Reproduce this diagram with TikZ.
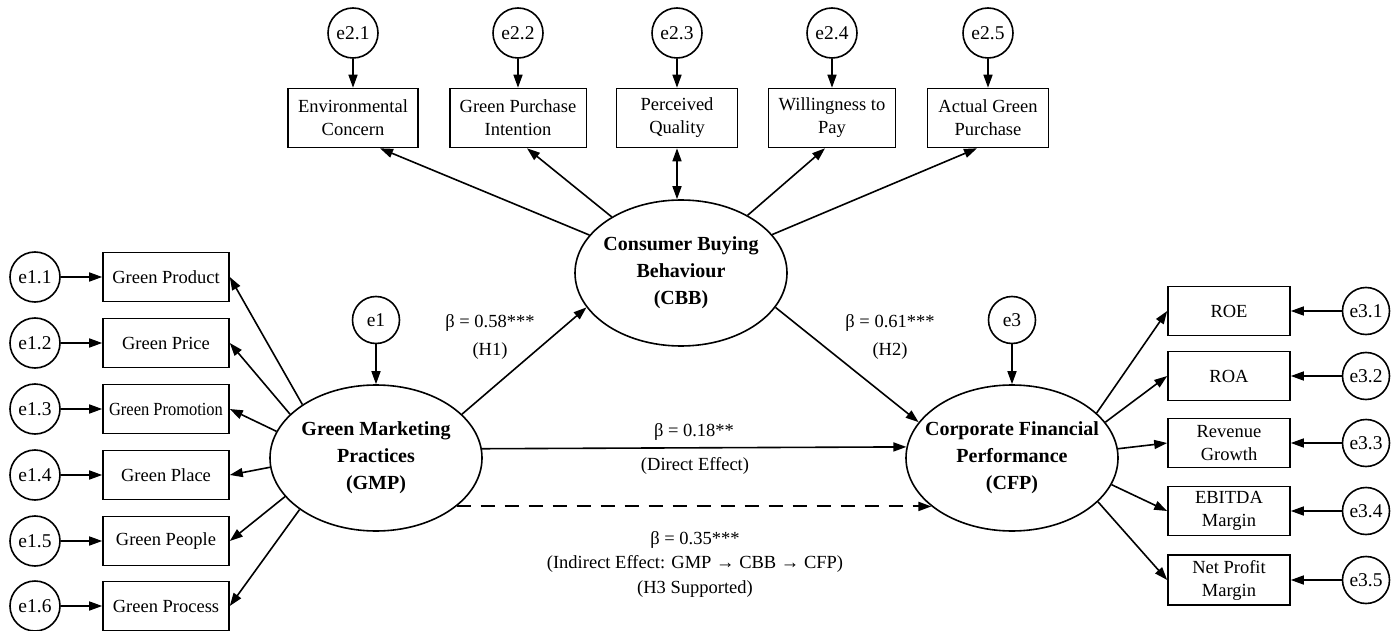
\documentclass[tikz,border=0pt]{standalone}
\usepackage{fontspec}
\setmainfont{Liberation Serif}
\usepackage{graphicx}
\usetikzlibrary{shapes.geometric,arrows.meta}

\begin{document}
\begin{tikzpicture}[x=1pt,y=-1pt,line width=1.6pt,>={Triangle[length=13pt,width=9pt]}]
	\tikzstyle{every node}+=[inner sep=0pt,font=\fontsize{18.5}{23}\selectfont]
	\tikzstyle{err}=[draw,circle,minimum size=50pt,font=\fontsize{19.5}{23}\selectfont]
	\tikzstyle{errs}=[err,minimum size=47pt]
	\tikzstyle{ind}=[draw,rectangle,align=center,inner xsep=4pt]
	\tikzstyle{indl}=[ind,minimum width=126pt,minimum height=49pt]
	\tikzstyle{indt}=[ind,inner xsep=10pt,minimum width=121pt,minimum height=59pt]
	\tikzstyle{indr}=[ind,minimum width=122pt,minimum height=49pt,inner ysep=5pt]
	\tikzstyle{latent}=[draw,ellipse,minimum width=212pt,minimum height=146pt]
	\tikzstyle{latlbl}=[align=center,font=\bfseries\fontsize{20}{27}\selectfont]
	\tikzstyle{coef}=[align=center]
	\useasboundingbox (0,0) rectangle (1400,631);

	\node[latent,label={[latlbl]center:Green Marketing\\Practices\\(GMP)}] (GMP) at (376,458) {};
	\node[latent,label={[latlbl]center:Consumer Buying\\Behaviour\\(CBB)}] (CBB) at (681,273) {};
	\node[latent,label={[latlbl]center:Corporate Financial\\Performance\\(CFP)}] (CFP) at (1012,458) {};
	\node[errs] (e1) at (376,320) {e1};
	\node[errs] (e3) at (1012,320) {e3};

	\node[err] (e11) at (35,277) {e1.1};
	\node[err] (e12) at (35,343) {e1.2};
	\node[err] (e13) at (35,409) {e1.3};
	\node[err] (e14) at (35,475) {e1.4};
	\node[err] (e15) at (35,541) {e1.5};
	\node[err] (e16) at (35,606) {e1.6};
	\node[indl] (gprod) at (166,277) {Green Product};
	\node[indl] (gprice) at (166,343) {Green Price};
	\node[indl] (gpromo) at (166,409) {\scalebox{0.89}[1]{Green Promotion}};
	\node[indl] (gplace) at (166,475) {Green Place};
	\node[indl] (gpeople) at (166,541) {Green People};
	\node[indl] (gprocess) at (166,606) {Green Process};

	\node[err] (e21) at (353,33) {e2.1};
	\node[err] (e22) at (518,33) {e2.2};
	\node[err] (e23) at (677,33) {e2.3};
	\node[err] (e24) at (832,33) {e2.4};
	\node[err] (e25) at (988,33) {e2.5};
	\node[indt] (env) at (353,118) {Environmental\\Concern};
	\node[indt] (gpi) at (518,118) {Green Purchase\\Intention};
	\node[indt] (pq) at (677,118) {Perceived\\Quality};
	\node[indt] (wtp) at (832,118) {Willingness to\\Pay};
	\node[indt] (agp) at (988,118) {Actual Green\\Purchase};

	\node[indr] (roe) at (1229,311) {ROE};
	\node[indr] (roa) at (1229,376) {ROA};
	\node[indr] (rev) at (1229,443) {Revenue\\Growth};
	\node[indr] (ebitda) at (1229,511) {EBITDA\\Margin};
	\node[indr] (npm) at (1229,580) {Net Profit\\Margin};
	\node[errs] (e31) at (1366,311) {e3.1};
	\node[errs] (e32) at (1366,376) {e3.2};
	\node[errs] (e33) at (1366,443) {e3.3};
	\node[errs] (e34) at (1366,511) {e3.4};
	\node[errs] (e35) at (1366,580) {e3.5};

	\node[coef,font=\fontsize{18.5}{28}\selectfont] (h1) at (490,337) {β = 0.58***\\(H1)};
	\node[coef,font=\fontsize{18.5}{28}\selectfont] (h2) at (890,337) {β = 0.61***\\(H2)};
	\node[coef] (dir) at (694,432) {β = 0.18**};
	\node[coef] (dirnote) at (695,466) {(Direct Effect)};
	\node[coef,font=\fontsize{18.5}{24.5}\selectfont] (ind) at (695,564) {β = 0.35***\\(Indirect Effect: GMP → CBB → CFP)\\(H3 Supported)};

	\draw[->] (e1) -- (GMP);
	\draw[->] (e3) -- (CFP);
	\draw[->] (e11) -- (gprod);
	\draw[->] (e12) -- (gprice);
	\draw[->] (e13) -- (gpromo);
	\draw[->] (e14) -- (gplace);
	\draw[->] (e15) -- (gpeople);
	\draw[->] (e16) -- (gprocess);
	\draw[->] (GMP.144) -- (gprod.east);
	\draw[->] (GMP.153) -- (gprice.east);
	\draw[->] (GMP.165) -- (gpromo.east);
	\draw[->] (GMP.185) -- (gplace.east);
	\draw[->] (GMP.203) -- (gpeople.east);
	\draw[->] (GMP.214) -- (gprocess.east);

	\draw[->] (e21) -- (env);
	\draw[->] (e22) -- (gpi);
	\draw[->] (e23) -- (pq);
	\draw[->] (e24) -- (wtp);
	\draw[->] (e25) -- (agp);
	\draw[->] (CBB) -- ([xshift=27pt]env.south);
	\draw[->] (CBB) -- ([xshift=9pt]gpi.south);
	\draw[<->] (pq.south) -- (pq.south |- CBB.north);
	\draw[->] (CBB) -- ([xshift=-7pt]wtp.south);
	\draw[->] (CBB) -- ([xshift=-11pt]agp.south);

	\draw[->] (CFP.28) -- (roe.west);
	\draw[->] (CFP.21) -- (roa.west);
	\draw[->] (CFP.5) -- (rev.west);
	\draw[->] (CFP.-15) -- (ebitda.west);
	\draw[->] (CFP.-27) -- (npm.west);
	\draw[->] (e31) -- (roe);
	\draw[->] (e32) -- (roa);
	\draw[->] (e33) -- (rev);
	\draw[->] (e34) -- (ebitda);
	\draw[->] (e35) -- (npm);

	\draw[->] (GMP.27) -- (CBB.200);
	\draw[->] (CBB.-20) -- (CFP.159);
	\draw[->] (GMP.5.5) -- (CFP.174.5);
	\draw[->,line width=2pt,dash pattern=on 14pt off 10pt] (GMP.-31) -- (CFP.211);
\end{tikzpicture}
\end{document}
